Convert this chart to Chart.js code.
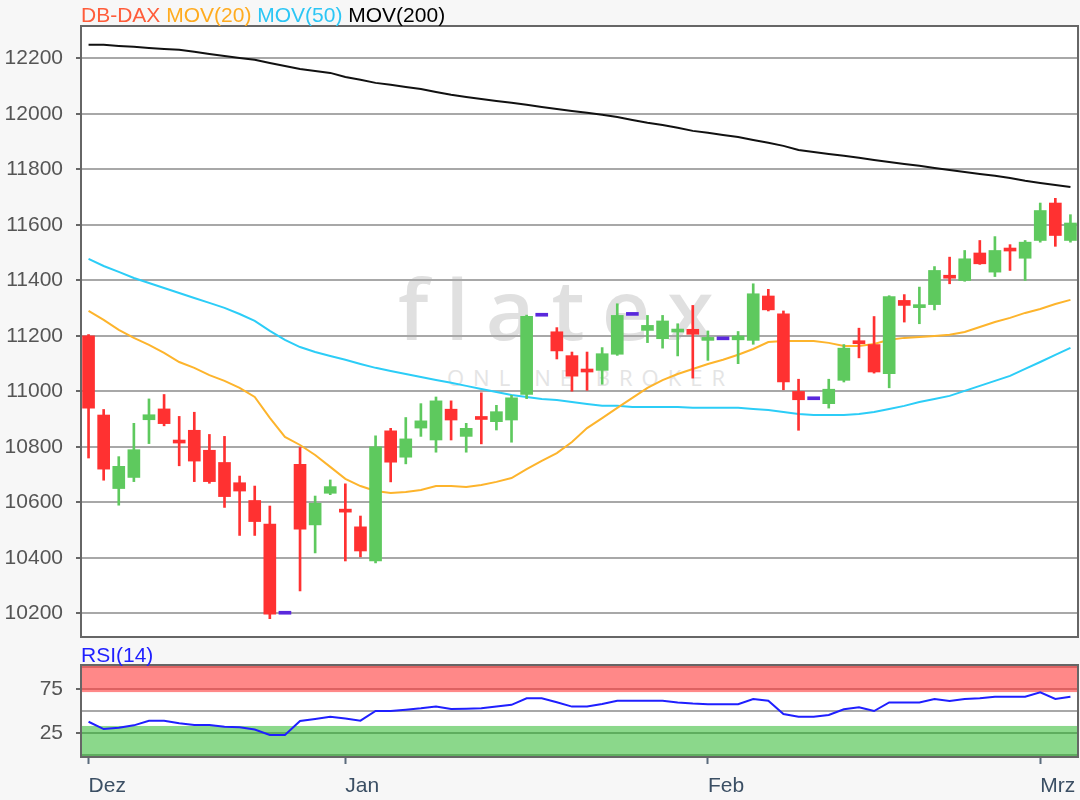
<!DOCTYPE html>
<html lang="de">
<head>
<meta charset="utf-8">
<title>DB-DAX</title>
<script src="https://cdn.jsdelivr.net/npm/chart.js@4.4.1/dist/chart.umd.min.js"></script>
<style>
    html, body { margin: 0; padding: 0; background: #f7f7f7; }
    #wrap { position: relative; width: 1080px; height: 800px; overflow: hidden; font-family: "Liberation Sans", Arial, sans-serif; }
    .plotbg { position: absolute; left: 81px; width: 997px; background: #fff; }
    .title { position: absolute; left: 81px; font-size: 21px; line-height: 21px; white-space: pre; }
    .wm { position: absolute; font-family: "Open Sans", sans-serif; white-space: pre; }
    canvas { position: absolute; left: 0; }
</style>
</head>
<body>
<div id="wrap">
    <div class="plotbg" style="top:26px;height:611px"></div>
    <div class="plotbg" style="top:665px;height:92px"></div>

    <!-- Wasserzeichen -->
    <div class="wm" style="left:398px;top:266px;font-size:84px;line-height:84px;font-weight:600;letter-spacing:17px;color:#e0e0e0">flatex</div>
    <div class="wm" style="left:447px;top:366px;font-size:22px;line-height:22px;letter-spacing:9px;color:#e4e4e4">ONLINE BROKER</div>

    <canvas id="mainChart" width="1080" height="640" style="top:0;width:1080px;height:640px"></canvas>
    <canvas id="rsiChart" width="1080" height="160" style="top:640px;width:1080px;height:160px"></canvas>

    <div class="title" style="top:4px"><span style="color:#ff5c3a">DB-DAX</span> <span style="color:#ffab1f">MOV(20)</span> <span style="color:#2cc6f5">MOV(50)</span> <span style="color:#000">MOV(200)</span></div>
    <div class="title" style="top:644px;color:#1f1fff">RSI(14)</div>
</div>

<script>
// Kursdaten (Tageskerzen, Dez bis Anfang Mrz)
const opens = [
    11200, 10915, 10650, 10690, 10898, 10937, 10824, 10860, 10788, 10744,
    10671, 10607, 10522, 10197, 10737, 10519, 10633, 10575, 10512, 10389,
    10858, 10763, 10868, 10825, 10936, 10838, 10906, 10891, 10897, 10989,
    11271, 11215, 11129, 11078, 11076, 11134, 11274, 11220, 11190, 11214,
    11224, 11184, 11186, 11186, 11184, 11344, 11280, 11000, 10970, 10956,
    11040, 11181, 11169, 11064, 11328, 11302, 11313, 11414, 11400, 11499,
    11430, 11514, 11480, 11544, 11679, 11544
];
const highs = [
    11205, 10935, 10765, 10885, 10973, 10989, 10910, 10925, 10845, 10838,
    10695, 10659, 10587, 10197, 10798, 10623, 10681, 10667, 10551, 10840,
    10867, 10906, 10956, 10980, 10966, 10885, 10995, 10950, 10986, 11275,
    11271, 11230, 11142, 11142, 11158, 11316, 11274, 11274, 11274, 11244,
    11310, 11218, 11186, 11216, 11388, 11368, 11290, 11044, 10970, 11044,
    11169, 11228, 11270, 11345, 11349, 11376, 11450, 11484, 11508, 11544,
    11558, 11529, 11544, 11679, 11696, 11637
];
const lows = [
    10760, 10680, 10590, 10675, 10812, 10876, 10732, 10675, 10669, 10582,
    10481, 10481, 10181, 10197, 10281, 10418, 10628, 10389, 10404, 10382,
    10674, 10739, 10838, 10781, 10825, 10781, 10811, 10861, 10817, 10974,
    11271, 11117, 11001, 11004, 11026, 11130, 11274, 11176, 11156, 11128,
    11048, 11112, 11186, 11100, 11170, 11290, 11006, 10860, 10970, 10940,
    11034, 11121, 11066, 11013, 11250, 11244, 11294, 11388, 11397, 11458,
    11414, 11436, 11400, 11538, 11523, 11538
];
const closes = [
    10940, 10720, 10730, 10790, 10916, 10884, 10814, 10749, 10675, 10621,
    10641, 10531, 10197, 10197, 10504, 10597, 10657, 10565, 10425, 10800,
    10745, 10829, 10894, 10966, 10897, 10867, 10899, 10927, 10977, 11271,
    11271, 11146, 11055, 11070, 11136, 11274, 11274, 11238, 11254, 11222,
    11206, 11188, 11186, 11200, 11352, 11294, 11034, 10970, 10970, 11008,
    11156, 11172, 11070, 11342, 11310, 11310, 11436, 11408, 11478, 11460,
    11508, 11506, 11538, 11652, 11562, 11607
];

// Gleitende Durchschnitte
const ma20 = [
    11290, 11258, 11222, 11193, 11168, 11139, 11106, 11085, 11059, 11038,
    11013, 10980, 10905, 10836, 10807, 10771, 10728, 10685, 10659, 10641,
    10634, 10638, 10645, 10659, 10659, 10656, 10663, 10674, 10688, 10720,
    10750, 10778, 10818, 10868, 10904, 10941, 10977, 11013, 11041, 11063,
    11081, 11099, 11114, 11132, 11153, 11178, 11182, 11182, 11182, 11175,
    11164, 11164, 11171, 11186, 11193, 11196, 11200, 11204, 11214, 11232,
    11250, 11265, 11283, 11297, 11315, 11330
];
const ma50 = [
    11478, 11452, 11431, 11409, 11391, 11373, 11355, 11337, 11319, 11301,
    11279, 11254, 11218, 11186, 11160, 11142, 11128, 11114, 11099, 11085,
    11074, 11063, 11052, 11041, 11031, 11020, 11009, 10998, 10987, 10980,
    10973, 10969, 10962, 10955, 10948, 10948, 10944, 10944, 10944, 10944,
    10941, 10941, 10941, 10941, 10937, 10933, 10926, 10919, 10915, 10915,
    10915, 10919, 10926, 10937, 10948, 10962, 10973, 10984, 11002, 11020,
    11038, 11056, 11081, 11106, 11132, 11157
];
const ma200 = [
    12249, 12249, 12245, 12242, 12238, 12234, 12231, 12224, 12216, 12209,
    12202, 12195, 12184, 12173, 12162, 12155, 12148, 12133, 12123, 12112,
    12105, 12097, 12090, 12079, 12069, 12061, 12054, 12047, 12040, 12033,
    12025, 12018, 12011, 12004, 11997, 11989, 11978, 11968, 11960, 11950,
    11939, 11932, 11924, 11917, 11906, 11896, 11885, 11870, 11863, 11856,
    11849, 11842, 11834, 11827, 11820, 11813, 11805, 11798, 11791, 11784,
    11777, 11769, 11759, 11751, 11744, 11737
];

// RSI(14)
const rsi = [
    37.8, 29.5, 31, 33.7, 39, 39, 36, 34, 34, 32,
    31.5, 29, 22.7, 22.7, 38.6, 41, 43.5, 41.5, 39, 50,
    50, 51.5, 53, 55, 52.3, 52.5, 53, 55, 57, 64.4,
    64.4, 60, 55, 55, 58, 61.7, 61.7, 61.7, 61.7, 59.8,
    58.5, 57.6, 57.6, 57.6, 63.6, 61.7, 46.6, 43.5, 43.5, 45.5,
    51.9, 54.2, 50, 59.8, 59.8, 59.8, 63.6, 61.4, 63.6, 64.5,
    66.3, 66.3, 66.3, 71.2, 63.6, 66.3
];

// Achsen
const monthIdx = [0, 17, 41, 63];
const monthNames = ['Dez', 'Jan', 'Feb', 'Mrz'];
const yTicks = [10200, 10400, 10600, 10800, 11000, 11200, 11400, 11600, 11800, 12000, 12200];
const rsiTicks = [25, 50, 75];
const rsiHighZone = [71.5, 103];
const rsiLowZone = [-3, 33];
const rsiZoneLines = { red: [100, 75], green: [25, 0] };

const UP = '#5ec95e';
const DOWN = '#ff3131';
const FLAT = '#5a28dc';

Chart.defaults.font.family = '"Liberation Sans", Arial, sans-serif';
Chart.defaults.font.size = 21;
Chart.defaults.color = '#555';

const days = opens.map((_, i) => String(i));
const isFlat = i => highs[i] === lows[i];
const candleColor = i => isFlat(i) ? FLAT : (closes[i] >= opens[i] ? UP : DOWN);

// Rahmen um den Plotbereich
const framePlugin = {
    id: 'frame',
    afterDraw(chart) {
        const { ctx, chartArea: a } = chart;
        ctx.save();
        ctx.strokeStyle = '#666';
        ctx.lineWidth = 2;
        ctx.strokeRect(a.left, a.top, a.right - a.left, a.bottom - a.top);
        ctx.restore();
    }
};

// Ueberkauft / ueberverkauft Zonen im RSI
const rsiBandsPlugin = {
    id: 'rsiBands',
    beforeDatasetsDraw(chart) {
        const { ctx, chartArea: a, scales: { y } } = chart;
        ctx.save();
        ctx.beginPath();
        ctx.rect(a.left, a.top, a.right - a.left, a.bottom - a.top);
        ctx.clip();

        function band(zone, fill) {
            const y1 = y.getPixelForValue(zone[1]);
            const y2 = y.getPixelForValue(zone[0]);
            ctx.fillStyle = fill;
            ctx.fillRect(a.left, y1, a.right - a.left, y2 - y1);
        }
        function lines(values, color) {
            ctx.strokeStyle = color;
            ctx.lineWidth = 2;
            values.forEach(v => {
                const py = y.getPixelForValue(v);
                ctx.beginPath();
                ctx.moveTo(a.left, py);
                ctx.lineTo(a.right, py);
                ctx.stroke();
            });
        }
        band(rsiHighZone, '#ff8888');
        band(rsiLowZone, '#8bd88b');
        lines(rsiZoneLines.red, '#dd6262');
        lines(rsiZoneLines.green, '#5fad5f');
        ctx.restore();
    }
};

function fixedWidth(w) {
    return function(scale) {
        scale.width = w;
        scale.paddingTop = 0;
        scale.paddingBottom = 0;
    };
}

// Hauptchart: Kerzen und gleitende Durchschnitte
new Chart(document.getElementById('mainChart'), {
    type: 'bar',
    data: {
        labels: days,
        datasets: [
            { type: 'line', label: 'MOV(200)', data: ma200, borderColor: '#111', borderWidth: 2, pointRadius: 0, order: 5 },
            { type: 'line', label: 'MOV(50)', data: ma50, borderColor: '#2ccdf7', borderWidth: 2, pointRadius: 0, order: 4 },
            { type: 'line', label: 'MOV(20)', data: ma20, borderColor: '#fdb42c', borderWidth: 2, pointRadius: 0, order: 3 },
            {
                label: 'Docht',
                data: lows.map((l, i) => [l, highs[i]]),
                backgroundColor: days.map((_, i) => isFlat(i) ? 'rgba(0,0,0,0)' : candleColor(i)),
                barThickness: 2,
                grouped: false,
                order: 2
            },
            {
                label: 'DB-DAX',
                data: opens.map((o, i) => [o, closes[i]]),
                backgroundColor: days.map((_, i) => candleColor(i)),
                barThickness: 12,
                minBarLength: 3,
                grouped: false,
                order: 1
            }
        ]
    },
    options: {
        responsive: false,
        animation: false,
        layout: { padding: { top: 26, right: 2, bottom: 3, left: 0 } },
        plugins: { legend: { display: false }, tooltip: { enabled: false } },
        scales: {
            x: { type: 'category', display: false, offset: true },
            y: {
                min: 10115,
                max: 12317,
                afterFit: fixedWidth(81),
                afterBuildTicks: s => { s.ticks = yTicks.map(v => ({ value: v })); },
                border: { display: false },
                grid: { color: '#a8a8a8', lineWidth: 2, tickLength: 5, tickWidth: 2, tickColor: '#666' },
                ticks: { padding: 13, color: '#555', callback: v => String(v) }
            }
        }
    },
    plugins: [framePlugin]
});

// RSI-Chart
new Chart(document.getElementById('rsiChart'), {
    type: 'line',
    data: {
        labels: days,
        datasets: [{ label: 'RSI(14)', data: rsi, borderColor: '#1f1fff', borderWidth: 2, pointRadius: 0 }]
    },
    options: {
        responsive: false,
        animation: false,
        layout: { padding: { top: 25, right: 2, bottom: 0, left: 0 } },
        plugins: { legend: { display: false }, tooltip: { enabled: false } },
        scales: {
            x: {
                type: 'category',
                offset: true,
                afterFit: s => { s.height = 43; s.paddingLeft = 0; s.paddingRight = 0; },
                afterBuildTicks: s => { s.ticks = monthIdx.map(v => ({ value: v })); },
                border: { display: false },
                grid: { offset: false, drawOnChartArea: false, tickLength: 7, tickWidth: 2, tickColor: '#5a6b7c' },
                ticks: {
                    align: 'start', maxRotation: 0, autoSkip: false, padding: 10, color: '#3b4f64',
                    callback: v => monthNames[monthIdx.indexOf(v)]
                }
            },
            y: {
                min: -2.3,
                max: 102.3,
                afterFit: fixedWidth(81),
                afterBuildTicks: s => { s.ticks = rsiTicks.map(v => ({ value: v })); },
                border: { display: false },
                grid: {
                    color: '#a8a8a8', lineWidth: 2, tickLength: 5, tickWidth: 2,
                    tickColor: c => (c.tick && c.tick.value === 50) ? 'rgba(0,0,0,0)' : '#666'
                },
                ticks: { padding: 13, color: '#555', callback: v => v === 50 ? '' : String(v) }
            }
        }
    },
    plugins: [rsiBandsPlugin, framePlugin]
});
</script>
</body>
</html>
